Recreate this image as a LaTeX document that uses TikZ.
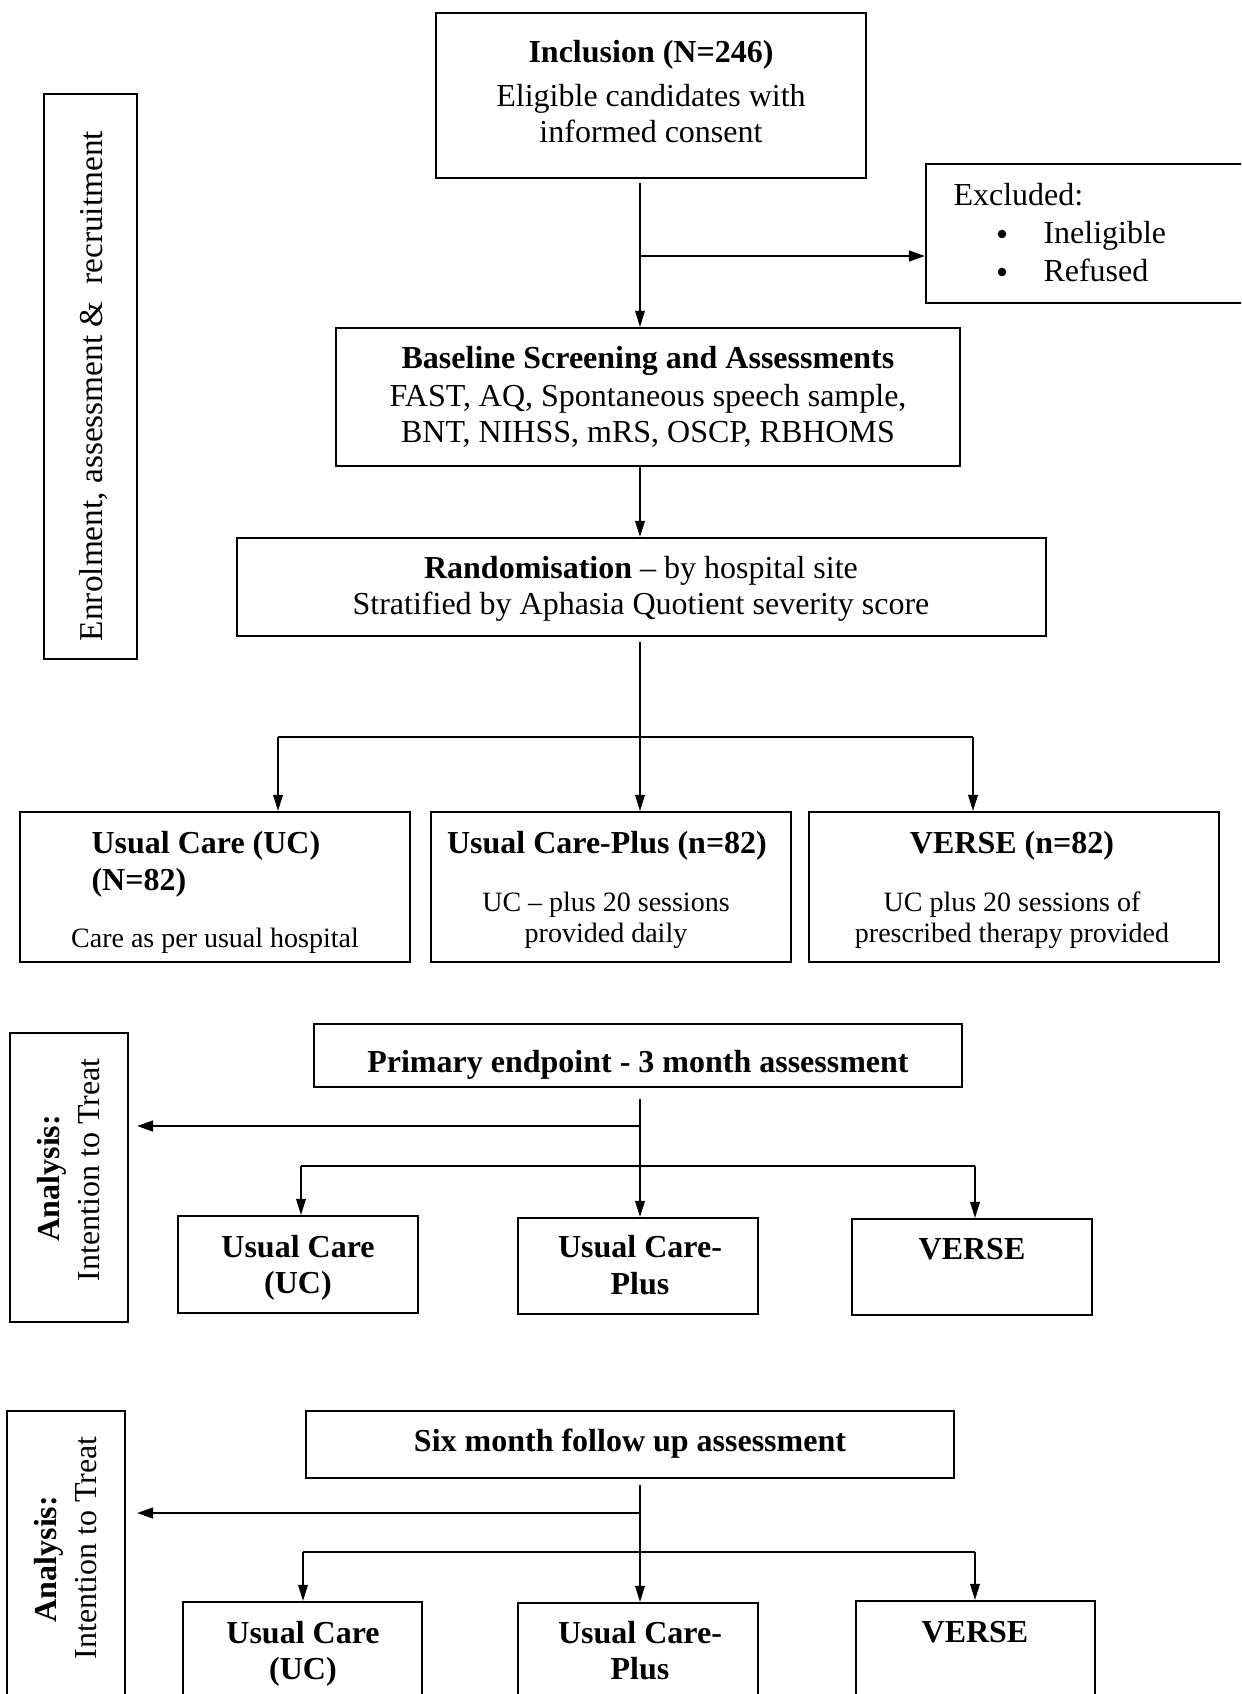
\documentclass[tikz,border=0pt]{standalone}
\usepackage{fontspec}
\setmainfont{Liberation Serif}
\usetikzlibrary{arrows.meta,fit,calc}
\begin{document}
\begin{tikzpicture}[x=0.375pt,y=-0.375pt,
  box/.style={draw,line width=0.8pt,inner sep=0pt},
  txt/.style={inner sep=0pt,font=\fontsize{12}{14}\selectfont},
  btxt/.style={inner sep=0pt,font=\fontsize{12}{14}\selectfont\bfseries},
  stxt/.style={inner sep=0pt,font=\fontsize{10.5}{12}\selectfont},
  bul/.style={circle,fill,inner sep=0pt,minimum size=3.2pt},
  conn/.style={line width=0.6pt},
  thickline/.style={line width=0.85pt},
  arr/.style={conn,-{Triangle[length=6pt,width=3.6pt]}},
  thickarr/.style={line width=0.9pt,-{Triangle[length=6pt,width=4pt]}},
]
\useasboundingbox (0,0) rectangle (1241,1694);
\fill[white] (0,0) rectangle (1241,1694);
\clip (0,0) rectangle (1241,1694);

% ---------- boxes ----------
\node[box,fit={(436,13) (866,178)}] (incl) {};
\node[box,fit={(926,164) (1260,303)}] (excl) {};
\node[box,fit={(336,328) (960,466)}] (base) {};
\node[box,fit={(237,538) (1046,636)}] (rand) {};
\node[box,fit={(44,94) (137,659)}] (enrol) {};
\node[box,fit={(20,812) (410,962)}] (uc1) {};
\node[box,fit={(431,812) (791,962)}] (ucp1) {};
\node[box,fit={(809,812) (1219,962)}] (vs1) {};
\node[box,fit={(314,1024) (962,1087)}] (prim) {};
\node[box,fit={(10,1033) (128,1322)}] (an1) {};
\node[box,fit={(178,1216) (418,1313)}] (uc2) {};
\node[box,fit={(518,1218) (758,1314)}] (ucp2) {};
\node[box,fit={(852,1219) (1092,1315)}] (vs2) {};
\node[box,fit={(306,1411) (954,1478)}] (six) {};
\node[box,fit={(7,1411) (125,1710)}] (an2) {};
\node[box,fit={(183,1602) (422,1710)}] (uc3) {};
\node[box,fit={(518,1603) (758,1710)}] (ucp3) {};
\node[box,fit={(856,1601) (1095,1710)}] (vs3) {};

% ---------- texts ----------
\node[btxt,anchor=base] (inclT1) at (651,62) {Inclusion (N=246)};
\node[txt,anchor=base] (inclT2) at (651,106) {Eligible candidates with};
\node[txt,anchor=base] (inclT3) at (651,142) {informed consent};

\node[txt,anchor=base west] (exT1) at (953,205) {Excluded:};
\node[bul] (exB1) at (1002,234) {};
\node[txt,anchor=base west] (exT2) at (1043,243) {Ineligible};
\node[bul] (exB2) at (1002,272) {};
\node[txt,anchor=base west] (exT3) at (1043,281) {Refused};

\node[btxt,anchor=base] (baseT1) at (648,368) {Baseline Screening and Assessments};
\node[txt,anchor=base] (baseT2) at (648,406) {FAST, AQ, Spontaneous speech sample,};
\node[txt,anchor=base] (baseT3) at (648,442) {BNT, NIHSS, mRS, OSCP, RBHOMS};

\node[txt,anchor=base] (randT1) at (641,578) {\textbf{Randomisation} -- by hospital site};
\node[txt,anchor=base] (randT2) at (641,614) {Stratified by Aphasia Quotient severity score};

\node[txt,font=\fontsize{12.5}{14}\selectfont,rotate=90,anchor=base] (enT) at (102,386) {Enrolment, assessment \&~ recruitment};

\node[btxt,anchor=base west] (uc1T1) at (91,853) {Usual Care (UC)};
\node[btxt,anchor=base west] (uc1T2) at (91,890) {(N=82)};
\node[stxt,anchor=base] (uc1T3) at (215,947) {Care as per usual hospital};

\node[btxt,anchor=base] (ucp1T1) at (607,853) {Usual Care-Plus (n=82)};
\node[stxt,anchor=base] (ucp1T2) at (606,911) {UC -- plus 20 sessions};
\node[stxt,anchor=base] (ucp1T3) at (606,942) {provided daily};

\node[btxt,anchor=base] (vs1T1) at (1012,853) {VERSE (n=82)};
\node[stxt,anchor=base] (vs1T2) at (1012,911) {UC plus 20 sessions of};
\node[stxt,anchor=base] (vs1T3) at (1012,942) {prescribed therapy provided};

\node[btxt,anchor=base] (primT) at (638,1072) {Primary endpoint - 3 month assessment};
\node[btxt,rotate=90,anchor=base] (an1T1) at (59,1178) {Analysis:};
\node[txt,rotate=90,anchor=base] (an1T2) at (99,1170) {Intention to Treat};
\node[btxt,anchor=base] (uc2T1) at (298,1257) {Usual Care};
\node[btxt,anchor=base] (uc2T2) at (298,1293) {(UC)};
\node[btxt,anchor=base] (ucp2T1) at (640,1257) {Usual Care-};
\node[btxt,anchor=base] (ucp2T2) at (640,1294) {Plus};
\node[btxt,anchor=base] (vs2T) at (972,1259) {VERSE};

\node[btxt,anchor=base] (sixT) at (630,1451) {Six month follow up assessment};
\node[btxt,rotate=90,anchor=base] (an2T1) at (56,1559) {Analysis:};
\node[txt,rotate=90,anchor=base] (an2T2) at (96,1548) {Intention to Treat};
\node[btxt,anchor=base] (uc3T1) at (303,1643) {Usual Care};
\node[btxt,anchor=base] (uc3T2) at (303,1679) {(UC)};
\node[btxt,anchor=base] (ucp3T1) at (640,1643) {Usual Care-};
\node[btxt,anchor=base] (ucp3T2) at (640,1679) {Plus};
\node[btxt,anchor=base] (vs3T) at (975,1642) {VERSE};

% ---------- connectors ----------
\coordinate (s1) at (640,0);
\draw[arr] ($(incl.south -| s1)+(0,4)$) -- (base.north -| s1);
\coordinate (j1) at (640,256);
\draw[thickarr] (j1) -- (j1 -| excl.west);
\draw[arr] (base.south -| s1) -- (rand.north -| s1);
\draw[arr] ($(rand.south -| s1)+(0,5)$) -- (ucp1.north -| s1);
\coordinate (h1l) at (278,737);
\coordinate (h1r) at (973,737);
\draw[conn] (h1l) -- (h1r);
\draw[arr] (h1l) -- (h1l |- uc1.north);
\draw[arr] (h1r) -- (h1r |- vs1.north);

\draw[arr] ($(prim.south -| s1)+(0,11)$) -- (ucp2.north -| s1);
\coordinate (j2) at (640,1126);
\draw[thickarr] (j2) -- ($(j2 -| an1.east)+(8,0)$);
\coordinate (h2l) at (301,1166);
\coordinate (h2r) at (975,1166);
\draw[thickline] (h2l) -- (h2r);
\draw[arr] (h2l) -- (h2l |- uc2.north);
\draw[arr] (h2r) -- (h2r |- vs2.north);

\draw[arr] ($(six.south -| s1)+(0,6)$) -- (ucp3.north -| s1);
\coordinate (j3) at (640,1513);
\draw[thickarr] (j3) -- ($(j3 -| an2.east)+(11,0)$);
\coordinate (h3l) at (303,1552);
\coordinate (h3r) at (975,1552);
\draw[thickline] (h3l) -- (h3r);
\draw[arr] (h3l) -- (h3l |- uc3.north);
\draw[arr] (h3r) -- (h3r |- vs3.north);
\end{tikzpicture}
\end{document}
